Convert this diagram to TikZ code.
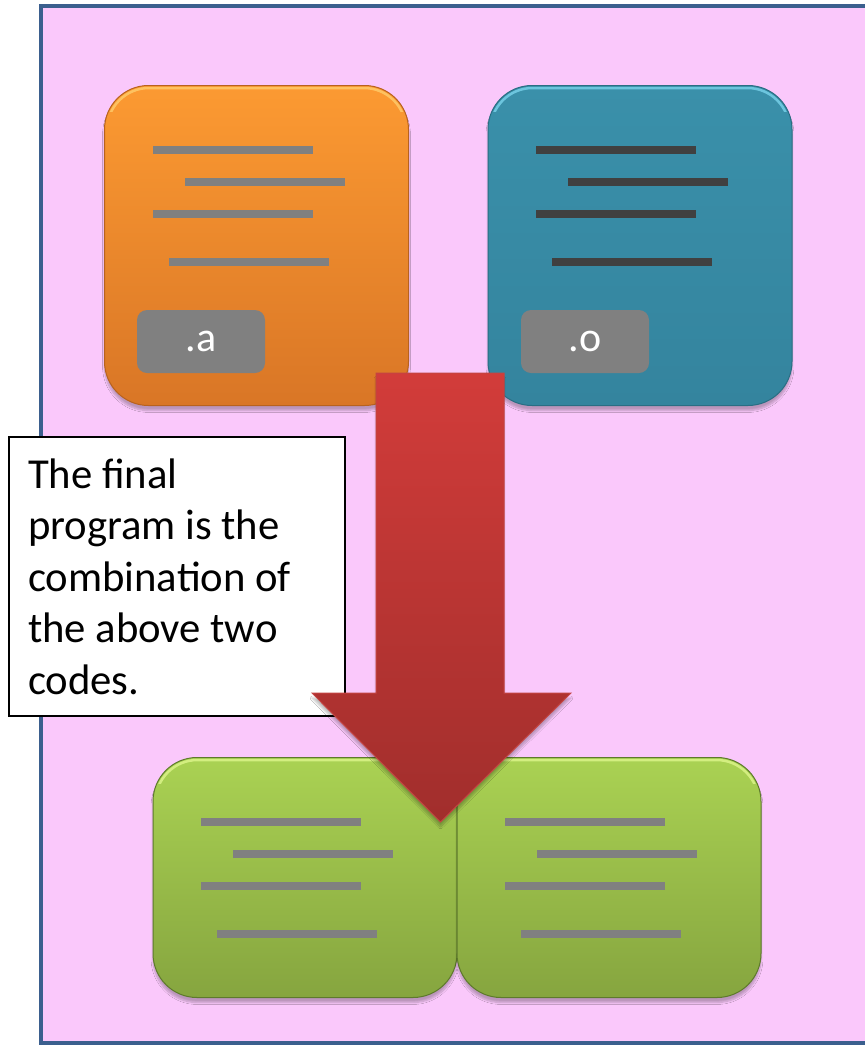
\documentclass[tikz,border=0pt]{standalone}
\usepackage{fontspec}
\setmainfont{Carlito}
\usetikzlibrary{shadows.blur}

\definecolor{pinkbg}{HTML}{FAC8FB}
\definecolor{framec}{HTML}{3B5F8E}
\definecolor{orangetop}{HTML}{FC9A32}
\definecolor{orangebot}{HTML}{D97626}
\definecolor{orangeedge}{HTML}{B8621E}
\definecolor{orangerim}{HTML}{FFD070}
\definecolor{tealtop}{HTML}{3A90AA}
\definecolor{tealbot}{HTML}{34849E}
\definecolor{tealedge}{HTML}{2A6E84}
\definecolor{tealrim}{HTML}{7ED8F0}
\definecolor{greentop}{HTML}{AAD253}
\definecolor{greenbot}{HTML}{86A53F}
\definecolor{greenedge}{HTML}{5E7A2C}
\definecolor{greenrim}{HTML}{E2F890}
\definecolor{redtop}{HTML}{D23C3A}
\definecolor{redbot}{HTML}{A12E2C}
\definecolor{rededge}{HTML}{C44442}
\definecolor{bargray}{HTML}{808080}
\definecolor{bardark}{HTML}{404040}

\tikzset{
  codebox/.style={rounded corners=44pt, inner sep=0pt, line width=1pt,
    blur shadow={shadow xshift=0pt, shadow yshift=-5pt, shadow blur steps=8, shadow opacity=25}},
  bar/.style={line width=8pt},
  tag/.style={fill=bargray, rounded corners=10pt, minimum width=128pt, minimum height=63pt,
    inner sep=0pt, text=white, font=\fontsize{42}{48}\selectfont},
  note/.style={draw=black, fill=white, line width=2pt, minimum width=336pt, minimum height=279pt,
    inner xsep=19pt, text width=298pt, align=flush left, font=\fontsize{42.7}{51.5}\selectfont}
}

% four text lines of a code card, drawn relative to the card's top-left corner
\newcommand{\codelines}[2]{%
  \begin{scope}[shift={#1}]
    \draw[bar, #2] (48,64) -- (208,64);
    \draw[bar, #2] (80,96) -- (240,96);
    \draw[bar, #2] (48,128) -- (208,128);
    \draw[bar, #2] (64,176) -- (224,176);
  \end{scope}}

% soft light bevel along the top edge of a card: left, top, right, bottom, colour
\newcommand{\cardrim}[5]{%
  \begin{scope}
    \clip (#1,#2) rectangle (#3,#2+26);
    \draw[#5, line width=2.5pt, opacity=0.75, rounded corners=42pt]
      (#1+2.5,#2+2.5) rectangle (#3-2.5,#4-2.5);
  \end{scope}}

\begin{document}
\begin{tikzpicture}[x=1pt, y=-1pt]
  \useasboundingbox (0,0) rectangle (865,1045);

  % framed pink panel
  \fill[pinkbg] (41,6) rectangle (880,1043);
  \draw[framec, line width=4pt] (880,6) -- (41,6) -- (41,1043) -- (880,1043);

  % the two source cards
  \node[codebox, draw=orangeedge, top color=orangetop, bottom color=orangebot,
        minimum width=304pt, minimum height=320pt] (arc) at (256.5,245.5) {};
  \cardrim{104.5}{85.5}{408.5}{405.5}{orangerim}
  \codelines{(105,86)}{bargray}
  \node[tag] (arctag) at (201,341.5) {.a};

  \node[codebox, draw=tealedge, top color=tealtop, bottom color=tealbot,
        minimum width=304pt, minimum height=320pt] (obj) at (640,245.5) {};
  \cardrim{488}{85.5}{792}{405.5}{tealrim}
  \codelines{(488,86)}{bardark}
  \node[tag] (objtag) at (585,341.5) {.o};

  % explanatory note
  \node[note] (explain) at (177,576.5)
    {The final\\program is the\\combination of\\the above two\\codes.};

  % the combined program
  \node[codebox, draw=greenedge, top color=greentop, bottom color=greenbot,
        minimum width=304pt, minimum height=240pt] (left) at (305,877.5) {};
  \node[codebox, draw=greenedge, top color=greentop, bottom color=greenbot,
        minimum width=304pt, minimum height=240pt] (right) at (609,877.5) {};
  \cardrim{153}{757.5}{457}{997.5}{greenrim}
  \cardrim{457}{757.5}{761}{997.5}{greenrim}
  \codelines{(153,758)}{bargray}
  \codelines{(457,758)}{bargray}

  % block arrow from the sources down to the result
  \shade[top color=redtop, bottom color=redbot, draw=rededge, line width=1pt,
         blur shadow={shadow xshift=0pt, shadow yshift=-5pt, shadow blur steps=8, shadow opacity=25}]
    (376,373) -- (504,373) -- (504,693) -- (571,693) -- (440.5,822)
    -- (312,693) -- (376,693) -- cycle;
\end{tikzpicture}
\end{document}
